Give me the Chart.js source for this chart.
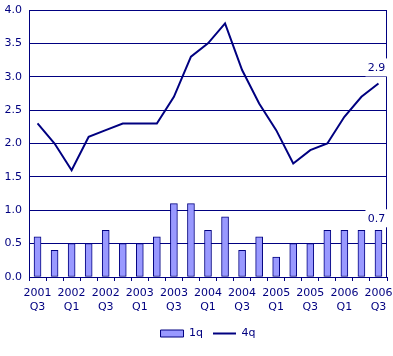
<!DOCTYPE html>
<html>
<head>
<meta charset="utf-8">
<script src="https://cdn.jsdelivr.net/npm/chart.js@4.4.0/dist/chart.umd.min.js"></script>
<style>
  html, body { margin: 0; padding: 0; background: #fff; }
  #wrap { width: 393px; height: 356px; }
</style>
</head>
<body>
<div id="wrap"><canvas id="c" width="393" height="356"></canvas></div>
<script>
const categories = ["2001 Q3","2001 Q4","2002 Q1","2002 Q2","2002 Q3","2002 Q4","2003 Q1","2003 Q2","2003 Q3","2003 Q4","2004 Q1","2004 Q2","2004 Q3","2004 Q4","2005 Q1","2005 Q2","2005 Q3","2005 Q4","2006 Q1","2006 Q2","2006 Q3"];
const series1q = [0.6,0.4,0.5,0.5,0.7,0.5,0.5,0.6,1.1,1.1,0.7,0.9,0.4,0.6,0.3,0.5,0.5,0.7,0.7,0.7,0.7];
const series4q = [2.3,2.0,1.6,2.1,2.2,2.3,2.3,2.3,2.7,3.3,3.5,3.8,3.1,2.6,2.2,1.7,1.9,2.0,2.4,2.7,2.9];
const yTicks = [0,0.5,1.0,1.5,2.0,2.5,3.0,3.5,4.0];

const NAVY = '#000080';
const FONT = { family: 'DejaVu Sans', size: 11 };

const framePlugin = {
  id: 'frame',
  beforeDatasetsDraw(chart) {
    const { ctx, chartArea: a } = chart;
    ctx.save();
    ctx.strokeStyle = NAVY;
    ctx.lineWidth = 1;
    ctx.beginPath();
    ctx.moveTo(Math.round(a.right) - 0.5, a.top);
    ctx.lineTo(Math.round(a.right) - 0.5, a.bottom);
    ctx.stroke();
    ctx.restore();
  }
};

const lastLabelPlugin = {
  id: 'lastLabels',
  afterDatasetsDraw(chart) {
    const { ctx } = chart;
    const offsets = [11, 15];
    ctx.save();
    ctx.font = '11px "DejaVu Sans"';
    ctx.textAlign = 'center';
    ctx.textBaseline = 'middle';
    chart.data.datasets.forEach((ds, di) => {
      const meta = chart.getDatasetMeta(di);
      const i = ds.data.length - 1;
      const el = meta.data[i];
      const x = el.x - 2, y = el.y - offsets[di];
      const txt = ds.data[i].toFixed(1);
      ctx.fillStyle = '#ffffff';
      ctx.fillRect(x - 11, y - 10, 22, 18);
      ctx.fillStyle = NAVY;
      ctx.fillText(txt, x, y);
    });
    ctx.restore();
  }
};

new Chart(document.getElementById('c'), {
  type: 'bar',
  data: {
    labels: categories,
    datasets: [
      {
        type: 'bar',
        label: '1q',
        data: series1q,
        backgroundColor: '#9999FF',
        borderColor: NAVY,
        borderWidth: 1,
        borderSkipped: false,
        barThickness: 7,
        order: 2
      },
      {
        type: 'line',
        label: '4q',
        data: series4q,
        borderColor: NAVY,
        backgroundColor: NAVY,
        borderWidth: 2,
        pointRadius: 0,
        tension: 0,
        fill: false,
        order: 1
      }
    ]
  },
  options: {
    responsive: false,
    animation: false,
    devicePixelRatio: 1,
    layout: { padding: { left: 0, right: 6, top: 10, bottom: 7 } },
    plugins: {
      tooltip: { enabled: false },
      legend: {
        position: 'bottom',
        fullSize: false,
        labels: {
          color: NAVY,
          font: FONT,
          usePointStyle: true,
          pointStyleWidth: 23,
          boxHeight: 7,
          padding: 10,
          sort: (a, b) => a.datasetIndex - b.datasetIndex,
          generateLabels(chart) {
            const items = Chart.defaults.plugins.legend.labels.generateLabels(chart);
            items.forEach(it => {
              if (it.datasetIndex === 0) { it.pointStyle = 'rect'; it.lineWidth = 1; }
              else { it.pointStyle = 'line'; it.lineWidth = 2; it.strokeStyle = NAVY; }
              it.fontColor = NAVY;
            });
            return items;
          }
        }
      }
    },
    scales: {
      x: {
        offset: true,
        grid: {
          offset: true,
          drawOnChartArea: false,
          drawTicks: true,
          tickLength: 4,
          color: NAVY
        },
        border: { color: NAVY, width: 1 },
        ticks: {
          color: NAVY,
          font: FONT,
          autoSkip: false,
          maxRotation: 0,
          minRotation: 0,
          padding: 6,
          callback(value, index) {
            return index % 2 === 0 ? categories[index].split(' ') : '';
          }
        },
        afterFit(scale) { scale.height = 41; scale.paddingLeft = 0; scale.paddingRight = 0; }
      },
      y: {
        min: 0,
        max: 4,
        afterBuildTicks(scale) { scale.ticks = yTicks.map(v => ({ value: v })); },
        grid: { color: NAVY, drawTicks: false, lineWidth: 1 },
        border: { color: NAVY, width: 1 },
        ticks: {
          color: NAVY,
          font: FONT,
          padding: 7,
          callback: v => Number(v).toFixed(1)
        },
        afterFit(scale) { scale.width = 29; scale.paddingTop = 0; scale.paddingBottom = 0; }
      }
    }
  },
  plugins: [framePlugin, lastLabelPlugin]
});
</script>
</body>
</html>
